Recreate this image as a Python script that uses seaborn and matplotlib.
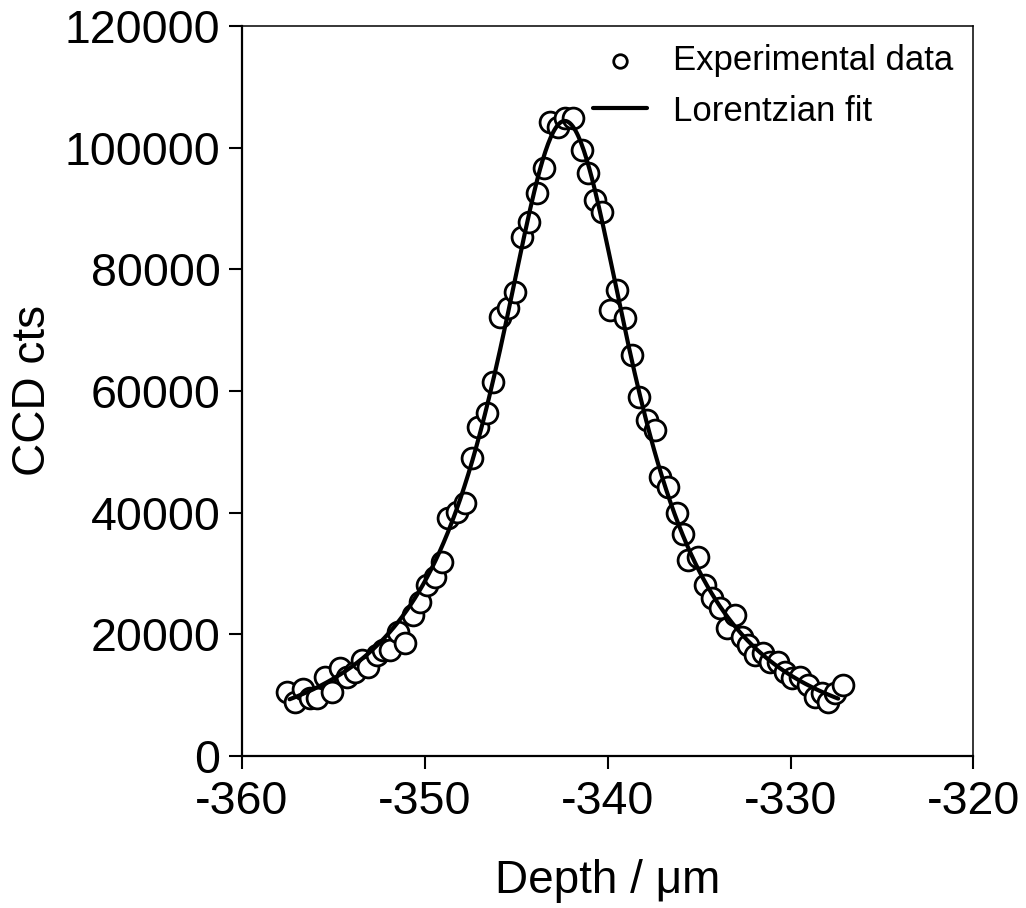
import matplotlib
matplotlib.use("Agg")
import matplotlib.pyplot as plt
import numpy as np
import pandas as pd
import seaborn as sns

# experimental points
depth = [-357.56, -357.10, -356.65, -356.28, -355.92, -355.47, -355.10, -354.65,
         -354.28, -353.83, -353.46, -353.10, -352.64, -352.28, -351.92, -351.46,
         -351.09, -350.64, -350.27, -349.91, -349.45, -349.09, -348.72, -348.26,
         -347.80, -347.44, -347.08, -346.62, -346.26, -345.90, -345.45, -345.08,
         -344.70, -344.29, -343.89, -343.49, -343.16, -342.71, -342.34, -341.89,
         -341.43, -341.07, -340.71, -340.29, -339.88, -339.48, -339.06, -338.69,
         -338.28, -337.87, -337.42, -337.15, -336.70, -336.24, -335.91, -335.60,
         -335.05, -334.68, -334.32, -333.87, -333.50, -333.05, -332.68, -332.32,
         -331.96, -331.50, -331.14, -330.69, -330.32, -329.95, -329.49, -329.04,
         -328.67, -328.31, -327.95, -327.58, -327.13]
counts = [10580, 8930, 10970, 9540, 9540, 13040, 10580, 14470,
          13040, 13860, 15790, 14690, 16610, 17430, 17430, 20440,
          18530, 23190, 25370, 28120, 29480, 31950, 39080, 40170,
          41550, 48950, 54140, 56340, 61540, 72230, 73610, 76340,
          85380, 87840, 92510, 96620, 104280, 103460, 104840, 104840,
          99630, 95800, 91410, 89490, 73330, 76620, 71960, 65930,
          59070, 55240, 53600, 45920, 44280, 39900, 36500, 32230,
          32670, 28120, 25930, 24290, 21000, 23190, 19620, 18250,
          16610, 16890, 15510, 15510, 13860, 12780, 13040, 11680,
          9750, 10310, 8930, 10310, 11680]

fit_start, fit_end = -357.4, -327.4

data_df = pd.DataFrame({"Depth": depth, "Counts": counts})

# Lorentzian fit: 1/y is quadratic in x, weight so residuals are in y
c = np.polyfit(data_df["Depth"], 1.0 / data_df["Counts"], 2, w=data_df["Counts"] ** 2)
fit_x = np.linspace(fit_start, fit_end, 400)
fit_df = pd.DataFrame({"Depth": fit_x, "Counts": 1.0 / np.polyval(c, fit_x)})

sns.set_theme(style="ticks")
plt.rcParams["font.family"] = ["Liberation Sans", "DejaVu Sans"]
plt.rcParams["text.color"] = "black"
plt.rcParams["axes.labelcolor"] = "black"
plt.rcParams["xtick.color"] = "black"
plt.rcParams["ytick.color"] = "black"

fig = plt.figure(figsize=(10.26, 9.08), dpi=100)
ax = fig.add_axes([0.2359, 0.1674, 0.7129, 0.8040])

sns.scatterplot(data=data_df, x="Depth", y="Counts", ax=ax, s=225, marker="o",
                facecolor="white", edgecolor="black", linewidth=2,
                label="Experimental data", zorder=3)
sns.lineplot(data=fit_df, x="Depth", y="Counts", ax=ax, color="black", lw=3,
             label="Lorentzian fit", zorder=4)

ax.set_xlim(-360, -320)
ax.set_ylim(0, 120000)
ax.set_xticks([-360, -350, -340, -330, -320])
ax.set_yticks(np.arange(0, 120001, 20000))
ax.set_xticklabels(["-360", "-350", "-340", "-330", "-320"])
ax.set_yticklabels([str(v) for v in range(0, 120001, 20000)])

ax.set_xlabel("Depth / μm", fontsize=33, labelpad=25)
ax.set_ylabel("CCD cts", fontsize=33, labelpad=7)
ax.tick_params(axis="both", labelsize=33.5, length=9.5, width=1.5,
               direction="out", color="black", labelcolor="black")
ax.tick_params(axis="x", pad=8)
ax.tick_params(axis="y", pad=6)
for side in ["left", "bottom"]:
    ax.spines[side].set_linewidth(1.6)
for side in ["top", "right"]:
    ax.spines[side].set_linewidth(1.1)
for s in ax.spines.values():
    s.set_color("black")

leg = ax.legend(loc="upper right", bbox_to_anchor=(0.972, 0.975), frameon=False,
                fontsize=25, handlelength=1.55, handletextpad=0.75,
                borderpad=0, borderaxespad=0, labelspacing=0.5, markerscale=0.65)

fig.savefig("out.png", dpi=100)
